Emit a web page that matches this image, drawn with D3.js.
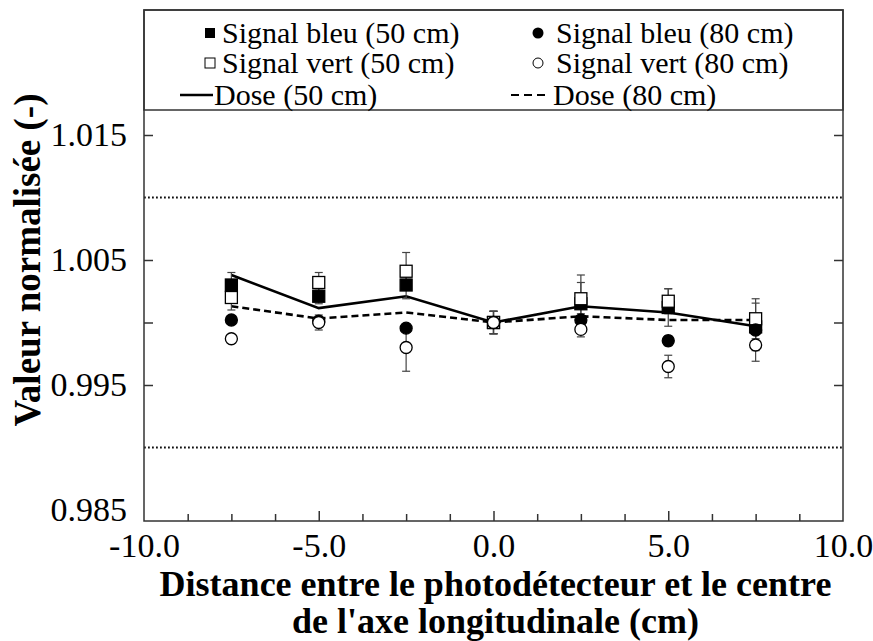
<html>
<script src='https://d3js.org/d3.v7.min.js'></script>
<style>
  body { margin: 0; background: #fff; }
  text { font-family: 'Liberation Serif', 'Times New Roman', Times, serif; }
</style>
<body onload='init()'>
<svg width=873 height=641></svg>
<script>
// positions (cm)
var positions = [-7.5, -5, -2.5, 0, 2.5, 5, 7.5]
// series values
var bleu50 = [1.0030, 1.0021, 1.0030, 1.0000, 1.0015, 1.0012, 0.99965]
var bleu50Err = [0.0010, 0.0006, 0.0011, 0.0009, 0.0017, 0.0015, 0.0019]
var vert50 = [1.0020, 1.0032, 1.0041, 1.0000, 1.0019, 1.0017, 1.0003]
var vert50Err = [0.0010, 0.0008, 0.0015, 0.0009, 0.0019, 0.0010, 0.0016]
var bleu80 = [1.0002, 1.0001, 0.99955, 1.0000, 1.0002, 0.99854, 0.9994]
var bleu80Err = [0.0003, 0.0003, 0.0003, 0.0009, 0.0005, 0.0004, 0.0003]
var vert80 = [0.9987, 1.0000, 0.9980, 1.0000, 0.99945, 0.99648, 0.9982]
var vert80Err = [0.0003, 0.0006, 0.0019, 0.0009, 0.0006, 0.0009, 0.0013]
var dose50 = [1.0038, 1.00115, 1.0021, 1.0000, 1.0013, 1.0008, 0.9997]
var dose80 = [1.0013, 1.00032, 1.0008, 1.0000, 1.0005, 1.0002, 1.0002]
// axis ticks
var yLabelTicks = [0.985, 0.995, 1.005, 1.015]
var yMarkTicks = [0.995, 1.000, 1.005, 1.015]
var yDotted = [0.990, 1.010]
var xLabelTicks = [-10, -5, 0, 5, 10]

function init() {
  var svg = d3.select("svg")
  var L = 144, R = 843, T = 10, B = 521
  var x = d3.scaleLinear().domain([-10, 10]).range([L, R])
  var y = d3.scaleLinear().domain([0.98412, 1.025]).range([B, T])
  var fx = d3.format(".1f")

  // dotted reference lines
  svg.selectAll(".dot").data(yDotted).enter().append("line")
    .attr("x1", L).attr("x2", R)
    .attr("y1", function(d) { return y(d) }).attr("y2", function(d) { return y(d) })
    .attr("stroke", "#111").attr("stroke-width", 1.8).attr("stroke-dasharray", "1.8,2.2")

  // y axis: labels
  svg.append("g").attr("transform", "translate(" + L + ",0)")
    .call(d3.axisLeft(y).tickValues(yLabelTicks).tickSize(0).tickPadding(17).tickFormat(d3.format(".3f")))
    .call(function(g) { g.select(".domain").remove() })
    .selectAll("text").attr("font-size", 34).attr("fill", "#000")
  // y ticks inward, both sides
  svg.append("g").attr("transform", "translate(" + L + ",0)")
    .call(d3.axisLeft(y).tickValues(yMarkTicks).tickSize(-9).tickFormat(""))
    .call(function(g) { g.select(".domain").remove() })
    .selectAll("line").attr("stroke", "#333").attr("stroke-width", 1.5)
  svg.append("g").attr("transform", "translate(" + R + ",0)")
    .call(d3.axisRight(y).tickValues(yMarkTicks).tickSize(-9).tickFormat(""))
    .call(function(g) { g.select(".domain").remove() })
    .selectAll("line").attr("stroke", "#333").attr("stroke-width", 1.5)

  // x axis ticks inward
  var minor = d3.range(-8.75, 10, 1.25).filter(function(d) { return Math.abs(d % 5) > 0.01 })
  svg.append("g").attr("transform", "translate(0," + B + ")")
    .call(d3.axisBottom(x).tickValues(minor).tickSize(-7).tickFormat(""))
    .call(function(g) { g.select(".domain").remove() })
    .selectAll("line").attr("stroke", "#333").attr("stroke-width", 1.5)
  svg.append("g").attr("transform", "translate(0," + B + ")")
    .call(d3.axisBottom(x).tickValues([-5, 0, 5]).tickSize(-10).tickFormat(""))
    .call(function(g) { g.select(".domain").remove() })
    .selectAll("line").attr("stroke", "#333").attr("stroke-width", 1.5)
  svg.append("g").attr("transform", "translate(0," + B + ")")
    .call(d3.axisBottom(x).tickValues(xLabelTicks).tickSize(0).tickPadding(12)
      .tickFormat(function(d) { return fx(d).replace("\u2212", "-") }))
    .call(function(g) { g.select(".domain").remove() })
    .selectAll("text").attr("font-size", 34).attr("fill", "#000")

  // dose lines
  var line = d3.line().x(function(d, i) { return x(positions[i]) }).y(function(d) { return y(d) })
  svg.append("path").datum(dose80).attr("d", line).attr("fill", "none")
    .attr("stroke", "#000").attr("stroke-width", 2.6).attr("stroke-dasharray", "7,4")
  svg.append("path").datum(dose50).attr("d", line).attr("fill", "none")
    .attr("stroke", "#000").attr("stroke-width", 2.6)

  // error bars
  var series = [
    {v: bleu50, e: bleu50Err, shape: "square", fill: "#000"},
    {v: vert50, e: vert50Err, shape: "square", fill: "#fff"},
    {v: bleu80, e: bleu80Err, shape: "circle", fill: "#000"},
    {v: vert80, e: vert80Err, shape: "circle", fill: "#fff"}
  ]
  series.forEach(function(s) {
    var g = svg.append("g").attr("stroke", "#444").attr("stroke-width", 1.2)
    s.v.forEach(function(v, i) {
      var cx = x(positions[i]), lo = y(v - s.e[i]), hi = y(v + s.e[i])
      g.append("line").attr("x1", cx).attr("x2", cx).attr("y1", lo).attr("y2", hi)
      g.append("line").attr("x1", cx - 4).attr("x2", cx + 4).attr("y1", lo).attr("y2", lo)
      g.append("line").attr("x1", cx - 4).attr("x2", cx + 4).attr("y1", hi).attr("y2", hi)
    })
  })
  // markers
  series.forEach(function(s) {
    var g = svg.append("g")
    s.v.forEach(function(v, i) {
      var cx = x(positions[i]), cy = y(v)
      if (s.shape == "square") {
        g.append("rect").attr("x", cx - 6).attr("y", cy - 6).attr("width", 12).attr("height", 12)
          .attr("fill", s.fill).attr("stroke", "#000").attr("stroke-width", 1.3)
      } else {
        g.append("circle").attr("cx", cx).attr("cy", cy).attr("r", 6)
          .attr("fill", s.fill).attr("stroke", "#000").attr("stroke-width", 1.3)
      }
    })
  })

  // legend box
  svg.append("rect").attr("x", L).attr("y", T).attr("width", R - L).attr("height", 100)
    .attr("fill", "#fff").attr("stroke", "#333").attr("stroke-width", 1.5)
  var leg = svg.append("g").attr("font-size", 30)
  var rows = [33, 63, 95]
  leg.append("rect").attr("x", 205).attr("y", rows[0] - 5).attr("width", 10).attr("height", 10).attr("fill", "#000")
  leg.append("rect").attr("x", 205).attr("y", rows[1] - 5).attr("width", 10).attr("height", 10)
    .attr("fill", "#fff").attr("stroke", "#000").attr("stroke-width", 1)
  leg.append("line").attr("x1", 180).attr("x2", 213).attr("y1", rows[2]).attr("y2", rows[2])
    .attr("stroke", "#000").attr("stroke-width", 2.6)
  leg.append("circle").attr("cx", 538).attr("cy", rows[0]).attr("r", 5.5).attr("fill", "#000")
  leg.append("circle").attr("cx", 538).attr("cy", rows[1]).attr("r", 5).attr("fill", "#fff")
    .attr("stroke", "#000").attr("stroke-width", 1)
  leg.append("line").attr("x1", 511).attr("x2", 548).attr("y1", rows[2]).attr("y2", rows[2])
    .attr("stroke", "#000").attr("stroke-width", 2).attr("stroke-dasharray", "8,5")
  var labels = [
    [222, rows[0], "Signal bleu (50 cm)"], [556, rows[0], "Signal bleu (80 cm)"],
    [222, rows[1], "Signal vert (50 cm)"], [556, rows[1], "Signal vert (80 cm)"],
    [214, rows[2], "Dose (50 cm)"], [553, rows[2], "Dose (80 cm)"]
  ]
  leg.selectAll("text.lab").data(labels).enter().append("text")
    .attr("x", function(d) { return d[0] }).attr("y", function(d) { return d[1] + 10 })
    .text(function(d) { return d[2] })

  // plot frame
  svg.append("rect").attr("x", L).attr("y", T).attr("width", R - L).attr("height", B - T)
    .attr("fill", "none").attr("stroke", "#333").attr("stroke-width", 1.5)

  // axis titles
  svg.append("text").attr("x", (L + R) / 2 + 2).attr("y", 596).attr("text-anchor", "middle")
    .attr("font-size", 36).attr("font-weight", "bold")
    .text("Distance entre le photodétecteur et le centre")
  svg.append("text").attr("x", (L + R) / 2 + 2).attr("y", 633).attr("text-anchor", "middle")
    .attr("font-size", 36).attr("font-weight", "bold")
    .text("de l'axe longitudinale (cm)")
  svg.append("text").attr("transform", "translate(40,260) rotate(-90)").attr("text-anchor", "middle")
    .attr("font-size", 37).attr("font-weight", "bold")
    .text("Valeur normalisée (-)")
}
</script>
</body>
</html>
